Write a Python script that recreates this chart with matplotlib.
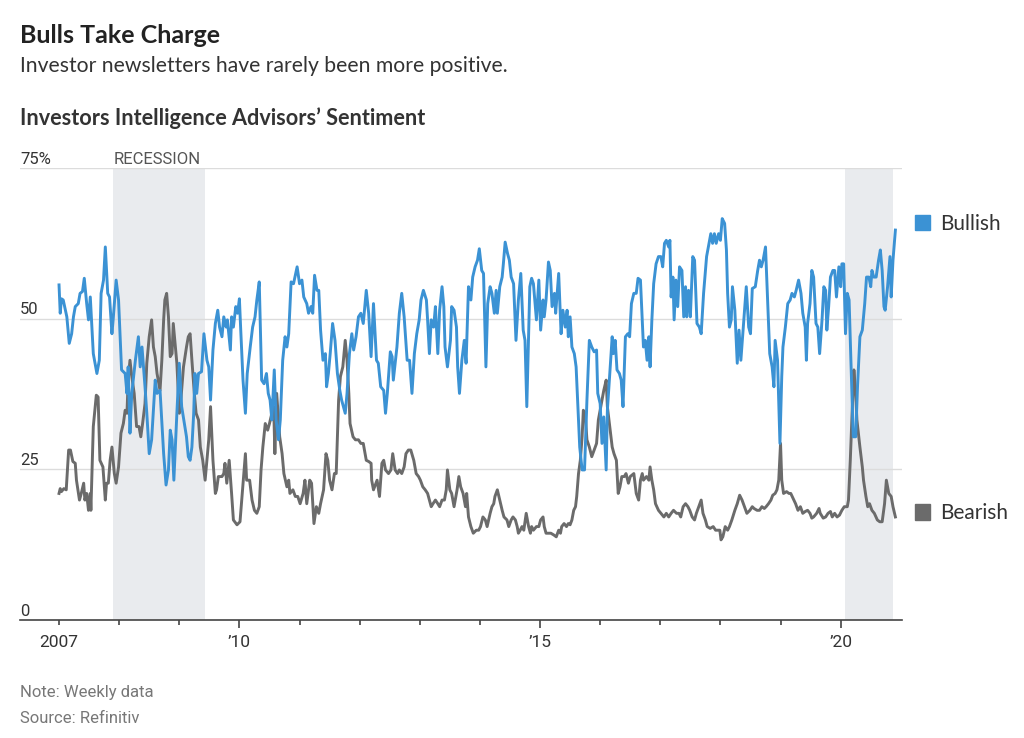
import matplotlib
matplotlib.use("Agg")
import matplotlib.pyplot as plt
from matplotlib.patches import Patch

# Data (decimal years)
bull_dates = [
    2007.00, 2007.02, 2007.04, 2007.07, 2007.13, 2007.17, 2007.21, 2007.24, 2007.27, 2007.32,
    2007.35, 2007.39, 2007.42, 2007.46, 2007.49, 2007.52, 2007.54, 2007.57, 2007.63, 2007.67,
    2007.70, 2007.74, 2007.77, 2007.81, 2007.84, 2007.88, 2007.90, 2007.95, 2007.99, 2008.04,
    2008.10, 2008.13, 2008.15, 2008.18, 2008.21, 2008.27, 2008.32, 2008.35, 2008.38, 2008.43,
    2008.46, 2008.50, 2008.54, 2008.60, 2008.63, 2008.68, 2008.74, 2008.78, 2008.82, 2008.85,
    2008.88, 2008.91, 2008.96, 2009.00, 2009.04, 2009.12, 2009.15,
    2009.18, 2009.21, 2009.24, 2009.26, 2009.29, 2009.32, 2009.37, 2009.41, 2009.46, 2009.49,
    2009.52, 2009.56, 2009.60, 2009.64, 2009.67, 2009.71, 2009.74, 2009.78, 2009.80, 2009.85,
    2009.87, 2009.90, 2009.94, 2009.97, 2010.00, 2010.02, 2010.06, 2010.10, 2010.13, 2010.18,
    2010.22, 2010.26, 2010.29, 2010.33, 2010.37, 2010.41, 2010.45, 2010.48, 2010.51, 2010.54,
    2010.58, 2010.61, 2010.65, 2010.68, 2010.72, 2010.76, 2010.79, 2010.82, 2010.86, 2010.90,
    2010.96, 2011.00, 2011.04, 2011.07, 2011.12, 2011.15, 2011.19, 2011.22, 2011.25, 2011.29,
    2011.32, 2011.35, 2011.39, 2011.43, 2011.45, 2011.48, 2011.51, 2011.55, 2011.59, 2011.63,
    2011.67,
    2011.70, 2011.76, 2011.79, 2011.83, 2011.87, 2011.90, 2011.94, 2011.98, 2012.02, 2012.06,
    2012.11, 2012.15, 2012.19, 2012.23, 2012.28, 2012.31, 2012.35, 2012.40, 2012.43, 2012.46,
    2012.51, 2012.54, 2012.56, 2012.62, 2012.66, 2012.70, 2012.74, 2012.79, 2012.83, 2012.87,
    2012.91, 2012.95, 2012.99, 2013.02, 2013.06, 2013.11, 2013.13, 2013.16, 2013.19, 2013.23,
    2013.26, 2013.30, 2013.33, 2013.37, 2013.40, 2013.42, 2013.46, 2013.51, 2013.53, 2013.57,
    2013.61, 2013.63, 2013.66, 2013.70, 2013.74, 2013.77, 2013.81, 2013.85, 2013.88, 2013.92,
    2013.96, 2013.99, 2014.03, 2014.06, 2014.10, 2014.13,
    2014.17, 2014.20, 2014.24, 2014.27, 2014.29, 2014.33, 2014.37, 2014.39, 2014.42, 2014.46,
    2014.49, 2014.52, 2014.56, 2014.60, 2014.64, 2014.68, 2014.72, 2014.75, 2014.78, 2014.83,
    2014.86, 2014.89, 2014.94, 2014.98, 2015.01, 2015.05, 2015.07, 2015.10, 2015.14, 2015.17,
    2015.20, 2015.24, 2015.26, 2015.31, 2015.35, 2015.38, 2015.42, 2015.45, 2015.47, 2015.50,
    2015.53, 2015.57, 2015.60, 2015.62, 2015.66, 2015.70, 2015.74, 2015.78, 2015.82, 2015.86,
    2015.90, 2015.94, 2015.96, 2016.00, 2016.03, 2016.06, 2016.10, 2016.12, 2016.16, 2016.20,
    2016.22, 2016.25, 2016.28, 2016.32, 2016.35, 2016.38, 2016.42, 2016.46, 2016.49, 2016.52,
    2016.56, 2016.60, 2016.63,
    2016.67, 2016.70, 2016.72, 2016.75, 2016.78, 2016.81, 2016.83, 2016.86, 2016.89, 2016.93,
    2016.97, 2017.01, 2017.04, 2017.07, 2017.10, 2017.14, 2017.16, 2017.18, 2017.21, 2017.23,
    2017.26, 2017.29, 2017.32, 2017.36, 2017.39, 2017.42, 2017.44, 2017.47, 2017.50, 2017.54,
    2017.57, 2017.61, 2017.65, 2017.68, 2017.72, 2017.77, 2017.80, 2017.84, 2017.87, 2017.90,
    2017.93, 2017.97, 2018.00, 2018.03, 2018.07, 2018.10, 2018.12, 2018.15, 2018.18, 2018.20,
    2018.24, 2018.28, 2018.31, 2018.34, 2018.39, 2018.43, 2018.47, 2018.50, 2018.53, 2018.58,
    2018.62, 2018.65, 2018.68, 2018.71, 2018.75, 2018.78, 2018.82, 2018.86, 2018.89, 2018.91,
    2018.95, 2018.99, 2019.02,
    2019.04, 2019.08, 2019.12, 2019.16, 2019.19, 2019.23, 2019.26, 2019.30, 2019.34, 2019.37,
    2019.41, 2019.43, 2019.45, 2019.49, 2019.52, 2019.55, 2019.59, 2019.62, 2019.65, 2019.69,
    2019.72, 2019.75, 2019.77, 2019.80, 2019.83, 2019.87, 2019.90, 2019.93, 2019.97, 2020.00,
    2020.02, 2020.05, 2020.08, 2020.11, 2020.14, 2020.17, 2020.21, 2020.25, 2020.28, 2020.32,
    2020.36, 2020.40, 2020.43, 2020.47, 2020.50, 2020.52, 2020.55, 2020.59, 2020.63, 2020.66,
    2020.69, 2020.72, 2020.74, 2020.78, 2020.82, 2020.84, 2020.87, 2020.91,
]
bull_values = [
    55.6, 50.9, 53.3, 53.1, 50.3, 45.9, 47.5, 50.3, 52.0, 52.5,
    54.2, 54.5, 56.7, 52.5, 49.8, 53.6, 49.8, 44.2, 40.9, 43.1,
    54.2, 56.4, 61.9, 54.2, 53.6, 47.5, 49.8, 56.4, 53.1, 41.5,
    40.9, 37.6, 42.0, 31.0, 37.6, 43.1, 47.0, 42.0, 45.3, 38.7,
    34.3, 27.6, 29.9, 39.8, 37.6, 38.1, 27.6, 22.4, 24.9, 31.5,
    29.9, 23.2, 34.3, 42.6, 35.4, 30.4, 27.1,
    26.5, 28.7, 34.3, 40.9, 37.6, 40.9, 41.2, 47.5, 43.1, 42.0,
    36.5, 44.8, 49.2, 51.4, 48.6, 47.0, 50.3, 48.6, 49.8, 44.8,
    50.3, 48.6, 52.0, 50.9, 53.3, 48.6, 39.8, 34.3, 40.9, 45.3,
    48.6, 50.3, 53.1, 56.1, 39.8, 39.2, 40.9, 37.6, 36.5, 33.2,
    41.5, 33.2, 29.9, 33.2, 43.1, 47.0, 45.3, 47.5, 56.1, 55.8,
    58.6, 55.8, 56.4, 53.6, 52.5, 50.9, 52.0, 50.9, 57.2, 54.7,
    54.7, 48.1, 43.1, 44.2, 38.7, 40.9, 44.2, 49.2, 46.4, 40.9,
    38.1,
    36.5, 34.3, 37.6, 44.2, 47.5, 44.8, 47.0, 50.3, 50.9, 49.2,
    54.7, 50.9, 43.7, 52.5, 43.1, 42.6, 38.7, 38.1, 34.3, 37.6,
    44.5, 43.7, 39.8, 45.3, 50.9, 54.2, 50.3, 43.1, 43.1, 37.6,
    44.2, 47.5, 49.8, 53.1, 54.7, 53.1, 49.8, 44.2, 49.8, 48.6,
    52.0, 44.2, 51.4, 55.3, 52.0, 45.3, 42.0, 46.4, 52.0, 51.4,
    48.6, 42.0, 37.6, 43.1, 46.4, 42.6, 55.3, 53.1, 56.9, 58.6,
    59.7, 61.6, 58.0, 57.5, 42.0, 52.5,
    55.3, 54.2, 50.9, 54.7, 50.9, 55.3, 56.9, 59.1, 62.7, 60.8,
    59.7, 56.9, 55.8, 46.4, 53.1, 57.5, 48.1, 46.4, 35.4, 55.3,
    56.7, 55.8, 49.8, 56.4, 48.1, 53.1, 50.3, 53.1, 59.4, 58.0,
    52.0, 54.2, 50.9, 57.5, 47.5, 51.4, 48.6, 51.4, 47.0, 50.3,
    45.3, 44.2, 42.0, 37.6, 28.7, 24.9, 24.9, 36.5, 46.4, 45.3,
    44.5, 44.8, 37.6, 35.9, 29.3, 33.7, 24.9, 34.8, 40.9, 47.0,
    44.2, 46.4, 41.5, 40.9, 39.8, 35.4, 47.0, 47.5, 47.0, 52.5,
    54.2, 54.2, 56.7,
    56.4, 49.8, 45.3, 46.4, 43.1, 47.0, 42.0, 49.8, 55.8, 59.1,
    60.3, 60.3, 58.6, 62.5, 63.0, 61.9, 63.0, 53.6, 56.9, 49.8,
    56.4, 52.0, 58.6, 58.0, 50.3, 55.3, 50.3, 54.7, 50.3, 60.3,
    59.7, 49.2, 48.6, 47.5, 54.2, 60.3, 61.9, 64.1, 62.5, 64.1,
    62.5, 64.1, 63.0, 66.6, 65.8, 61.4, 54.2, 48.6, 49.8, 55.3,
    51.4, 42.6, 48.1, 43.1, 49.8, 55.3, 48.6, 47.5, 55.0, 55.3,
    58.0, 59.7, 58.6, 59.7, 61.9, 54.2, 44.2, 42.0, 38.7, 46.4,
    43.1, 29.3, 40.4,
    45.3, 48.6, 52.5, 53.1, 54.2, 53.6, 54.7, 56.4, 54.2, 50.9,
    48.6, 43.1, 49.2, 52.5, 58.0, 56.9, 49.2, 48.6, 44.2, 49.8,
    55.3, 54.7, 48.1, 52.0, 56.9, 58.0, 58.0, 53.6, 58.6, 55.3,
    59.1, 59.1, 47.5, 54.2, 53.1, 43.1, 30.4, 30.4, 38.7, 47.0,
    48.1, 52.5, 56.9, 56.9, 55.3, 58.0, 56.9, 56.9, 59.7, 61.4,
    58.0, 52.0, 51.4, 55.3, 60.3, 53.6, 59.7, 64.7,
]

bear_dates = [
    2007.00, 2007.02, 2007.04, 2007.08, 2007.12, 2007.16, 2007.19, 2007.23, 2007.27, 2007.29,
    2007.34, 2007.37, 2007.41, 2007.43, 2007.46, 2007.49, 2007.52, 2007.53, 2007.57, 2007.62,
    2007.65, 2007.68, 2007.73, 2007.77, 2007.79, 2007.82, 2007.85, 2007.88, 2007.92, 2007.95,
    2007.99, 2008.03, 2008.07, 2008.10, 2008.13, 2008.15, 2008.18, 2008.21, 2008.25, 2008.29,
    2008.33, 2008.36, 2008.39, 2008.43, 2008.46, 2008.50, 2008.54, 2008.57, 2008.60, 2008.63,
    2008.65, 2008.68, 2008.71, 2008.74, 2008.76, 2008.79, 2008.82, 2008.85, 2008.88, 2008.90,
    2008.93, 2008.96, 2009.00, 2009.03, 2009.07, 2009.12, 2009.15,
    2009.18, 2009.21, 2009.25, 2009.28, 2009.32, 2009.35, 2009.39, 2009.43, 2009.46, 2009.49,
    2009.52, 2009.56, 2009.60, 2009.62, 2009.65, 2009.71, 2009.74, 2009.76, 2009.79, 2009.83,
    2009.87, 2009.90, 2009.96, 2010.01, 2010.06, 2010.10, 2010.12, 2010.17, 2010.21, 2010.25,
    2010.29, 2010.33, 2010.36, 2010.39, 2010.43, 2010.47, 2010.50, 2010.54, 2010.57, 2010.59,
    2010.62, 2010.67, 2010.71, 2010.74, 2010.79, 2010.82, 2010.84, 2010.89, 2010.93, 2010.97,
    2011.01, 2011.06, 2011.09, 2011.12, 2011.17, 2011.20, 2011.24, 2011.28, 2011.32, 2011.35,
    2011.40, 2011.44, 2011.47, 2011.50, 2011.54, 2011.58, 2011.61, 2011.65,
    2011.68, 2011.72, 2011.76, 2011.79, 2011.82, 2011.84, 2011.89, 2011.93, 2011.98, 2012.02,
    2012.06, 2012.11, 2012.15, 2012.19, 2012.20, 2012.23, 2012.29, 2012.33, 2012.37, 2012.40,
    2012.43, 2012.48, 2012.52, 2012.55, 2012.59, 2012.63, 2012.66, 2012.70, 2012.74, 2012.77,
    2012.81, 2012.85, 2012.90, 2012.94, 2012.98, 2013.01, 2013.05, 2013.09, 2013.13, 2013.16,
    2013.19, 2013.22, 2013.26, 2013.30, 2013.33, 2013.37, 2013.41, 2013.44, 2013.46, 2013.50,
    2013.53, 2013.57, 2013.62, 2013.65, 2013.68, 2013.72, 2013.76, 2013.78, 2013.81, 2013.85,
    2013.89, 2013.94, 2013.98, 2014.01, 2014.05, 2014.09, 2014.12,
    2014.17, 2014.20, 2014.23, 2014.25, 2014.29, 2014.33, 2014.37, 2014.40, 2014.45, 2014.48,
    2014.52, 2014.55, 2014.59, 2014.62, 2014.64, 2014.67, 2014.70, 2014.73, 2014.77, 2014.81,
    2014.84, 2014.86, 2014.89, 2014.94, 2014.98, 2015.01, 2015.05, 2015.07, 2015.10, 2015.14,
    2015.18, 2015.23, 2015.27, 2015.31, 2015.34, 2015.36, 2015.40, 2015.44, 2015.47, 2015.50,
    2015.53, 2015.56, 2015.59, 2015.61, 2015.64, 2015.67, 2015.70, 2015.72, 2015.75, 2015.78,
    2015.82, 2015.86, 2015.90, 2015.94, 2015.97, 2016.01, 2016.06, 2016.10, 2016.12, 2016.16,
    2016.20, 2016.23, 2016.27, 2016.30, 2016.33, 2016.36, 2016.40, 2016.43, 2016.47, 2016.50,
    2016.56, 2016.60, 2016.64,
    2016.67, 2016.70, 2016.72, 2016.77, 2016.81, 2016.83, 2016.86, 2016.89, 2016.92, 2016.97,
    2017.01, 2017.06, 2017.10, 2017.14, 2017.18, 2017.22, 2017.27, 2017.31, 2017.34, 2017.38,
    2017.42, 2017.46, 2017.49, 2017.53, 2017.57, 2017.60, 2017.64, 2017.68, 2017.71, 2017.75,
    2017.78, 2017.83, 2017.88, 2017.92, 2017.95, 2017.99, 2018.01, 2018.04, 2018.08, 2018.12,
    2018.15, 2018.19, 2018.24, 2018.28, 2018.32, 2018.36, 2018.40, 2018.44, 2018.49, 2018.53,
    2018.56, 2018.61, 2018.65, 2018.69, 2018.73, 2018.76, 2018.80, 2018.84, 2018.87, 2018.91,
    2018.94, 2018.97, 2019.00, 2019.02, 2019.05, 2019.10, 2019.14, 2019.17,
    2019.25, 2019.29, 2019.33, 2019.37, 2019.41, 2019.45, 2019.49, 2019.52, 2019.55, 2019.60,
    2019.64, 2019.66, 2019.71, 2019.75, 2019.79, 2019.83, 2019.86, 2019.90, 2019.94, 2019.98,
    2020.02, 2020.06, 2020.11, 2020.13, 2020.16, 2020.19, 2020.22, 2020.25, 2020.27, 2020.32,
    2020.36, 2020.38, 2020.42, 2020.45, 2020.48, 2020.52, 2020.56, 2020.61, 2020.65, 2020.69,
    2020.73, 2020.76, 2020.80, 2020.84, 2020.87, 2020.91,
]
bear_values = [
    21.0, 21.8, 21.3, 21.8, 21.6, 28.2, 28.2, 26.3, 26.0, 23.2,
    19.9, 21.0, 22.7, 19.9, 21.0, 18.2, 21.0, 18.2, 32.1, 37.3,
    37.0, 26.5, 25.4, 19.9, 22.7, 22.7, 26.5, 28.7, 24.3, 22.7,
    25.4, 31.0, 32.6, 34.8, 34.3, 39.8, 43.1, 40.4, 37.6, 32.1,
    32.1, 30.4, 32.6, 35.9, 42.6, 47.0, 49.8, 45.3, 43.7, 40.9,
    39.8, 38.1, 43.1, 49.8, 53.1, 54.2, 50.3, 43.7, 44.2, 49.2,
    45.9, 42.6, 34.3, 37.0, 42.0, 45.3, 47.0,
    47.5, 43.1, 37.6, 34.3, 33.2, 28.7, 26.5, 23.2, 26.5, 29.9,
    35.4, 26.5, 21.0, 21.6, 23.8, 23.8, 24.3, 26.0, 22.7, 26.5,
    21.0, 16.6, 15.8, 16.3, 22.7, 27.6, 23.2, 23.2, 19.9, 18.2,
    17.7, 18.8, 24.9, 28.7, 32.6, 31.5, 32.6, 34.3, 35.4, 27.6,
    37.6, 30.4, 27.6, 24.3, 22.1, 23.2, 21.0, 21.6, 20.5, 20.5,
    19.3, 21.0, 23.2, 19.3, 23.2, 22.7, 16.0, 18.8, 17.7, 19.3,
    21.6, 27.6, 26.5, 23.2, 21.6, 24.3, 24.3, 36.5,
    40.4, 42.0, 46.4, 43.1, 37.6, 32.6, 30.4, 29.9, 29.9, 29.3,
    29.3, 26.5, 26.3, 26.0, 23.2, 21.6, 23.2, 20.5, 26.0, 26.5,
    24.9, 24.3, 24.9, 27.6, 24.9, 24.3, 24.9, 24.3, 25.4, 27.6,
    28.2, 28.2, 26.5, 24.3, 23.8, 23.2, 22.1, 21.6, 21.0, 19.9,
    18.8, 19.3, 19.9, 19.3, 18.8, 19.9, 19.9, 21.6, 24.9, 21.6,
    21.0, 18.8, 21.6, 23.8, 22.1, 21.0, 18.8, 21.0, 17.1, 15.5,
    14.4, 14.9, 14.9, 15.5, 17.1, 16.6, 15.5,
    17.7, 18.8, 19.3, 20.5, 21.6, 19.9, 18.2, 17.1, 16.6, 15.5,
    16.6, 17.1, 16.6, 15.5, 14.4, 14.9, 15.5, 14.9, 17.7, 15.5,
    14.4, 15.5, 14.9, 15.5, 15.5, 16.6, 17.1, 15.5, 14.4, 14.4,
    14.4, 14.1, 13.8, 14.9, 14.4, 15.5, 16.0, 15.5, 16.0, 15.8,
    16.6, 18.2, 18.8, 20.5, 24.3, 26.5, 30.4, 34.8, 34.3, 29.9,
    28.7, 27.1, 28.2, 29.3, 33.2, 35.4, 38.1, 39.8, 35.4, 32.1,
    28.7, 27.6, 26.5, 21.0, 22.1, 23.8, 23.8, 24.3, 22.7, 23.8,
    24.3, 21.0, 19.9,
    23.2, 24.3, 23.2, 23.8, 23.2, 25.4, 23.2, 21.6, 19.3, 18.2,
    17.7, 17.1, 17.7, 17.1, 17.7, 18.2, 17.7, 17.7, 17.1, 18.8,
    19.3, 18.8, 18.2, 17.1, 16.6, 17.7, 18.8, 19.9, 17.7, 16.6,
    15.5, 15.2, 15.5, 14.9, 14.9, 14.9, 13.3, 13.8, 15.5, 14.9,
    15.5, 16.6, 18.2, 19.3, 20.7, 19.9, 18.8, 17.7, 18.2, 18.8,
    18.5, 18.2, 18.2, 18.8, 18.5, 18.8, 19.3, 19.9, 20.7, 21.0,
    21.6, 23.2, 29.3, 23.2, 21.0, 21.3, 21.0, 21.0,
    19.3, 18.2, 18.8, 17.7, 18.0, 18.2, 17.7, 16.9, 17.1, 17.7,
    18.5, 17.7, 16.9, 17.1, 17.7, 18.0, 17.1, 17.7, 17.1, 17.4,
    18.2, 18.8, 18.8, 19.9, 26.5, 34.3, 41.5, 37.6, 33.2, 28.7,
    25.4, 23.2, 20.5, 18.8, 19.3, 18.2, 17.7, 16.6, 16.3, 16.3,
    19.3, 23.2, 21.0, 20.5, 18.8, 17.1,
]

recessions = [(2007.9, 2009.42), (2020.08, 2020.87)]
y_ticks = [0, 25, 50, 75]
y_labels = ["0", "25", "50", "75%"]
year_ticks = list(range(2007, 2021))
major_years = [2010, 2015, 2020]
major_labels = ["\u201910", "\u201915", "\u201920"]

BLUE = "#3b92d4"
GRAY = "#6b6b6b"
SHADE = "#e9ebee"
NARROW = ["Roboto", "DejaVu Sans"]
SANS = ["Lato", "DejaVu Sans"]

fig = plt.figure(figsize=(10.24, 7.38), dpi=100)
ax = fig.add_axes([20 / 1024, 1 - 620 / 738, 882 / 1024, 452 / 738])

for start, end in recessions:
    ax.axvspan(start, end, color=SHADE, lw=0, zorder=0)

ax.plot(bear_dates, bear_values, color=GRAY, lw=2.1, zorder=3,
        solid_joinstyle="round")
ax.plot(bull_dates, bull_values, color=BLUE, lw=2.1, zorder=4,
        solid_joinstyle="round")

ax.set_xlim(2006.351, 2021.02)
ax.set_ylim(0, 75)

# axes styling
for side in ["top", "right", "left"]:
    ax.spines[side].set_visible(False)
ax.spines["bottom"].set_color("#444444")
ax.spines["bottom"].set_linewidth(1.2)
ax.spines["bottom"].set_zorder(5)

ax.set_yticks(y_ticks)
ax.set_yticklabels([])
ax.tick_params(axis="y", length=0)
ax.yaxis.grid(True, color="#dcdcdc", lw=1.0)
ax.set_axisbelow(True)

ax.set_xticks(major_years)
ax.set_xticklabels(major_labels)
ax.set_xticks(year_ticks, minor=True)
ax.set_xticklabels(["2007"] + [""] * (len(year_ticks) - 1), minor=True)
ax.tick_params(axis="x", which="major", length=6, width=1.2, color="#444444",
               pad=5, labelsize=12.5, labelcolor="#333333")
ax.tick_params(axis="x", which="minor", length=3.5, width=1.2, color="#444444",
               pad=7.5, labelsize=12.5, labelcolor="#333333")
for lab in ax.get_xticklabels(which="both"):
    lab.set_family(NARROW)

for yv, lab in zip(y_ticks, y_labels):
    ax.annotate(lab, xy=(0, yv), xycoords=("axes fraction", "data"),
                xytext=(0, 3), textcoords="offset points", va="baseline",
                ha="left", fontsize=12, color="#333333", family=NARROW)

ax.annotate("RECESSION", xy=(recessions[0][0], 75), xytext=(0, 3),
            textcoords="offset points", va="baseline", ha="left",
            fontsize=12, color="#555555", family=NARROW)

# legend keys at the right
leg1 = ax.legend(handles=[Patch(color=BLUE)], labels=["Bullish"],
                 loc="center left", bbox_to_anchor=(1.005, 65.7 / 75),
                 frameon=False, handlelength=0.75, handleheight=0.75,
                 handletextpad=0.45, borderaxespad=0,
                 prop={"family": SANS, "size": 15})
ax.add_artist(leg1)
ax.legend(handles=[Patch(color=GRAY)], labels=["Bearish"],
          loc="center left", bbox_to_anchor=(1.005, 17.7 / 75),
          frameon=False, handlelength=0.75, handleheight=0.75,
          handletextpad=0.45, borderaxespad=0,
          prop={"family": SANS, "size": 15})
for lg in [leg1, ax.get_legend()]:
    for t in lg.get_texts():
        t.set_color("#333333")

# titles and notes
fig.text(20 / 1024, 1 - 43 / 738, "Bulls Take Charge", family=SANS,
         weight="bold", fontsize=18, color="#222222", va="baseline")
fig.text(20 / 1024, 1 - 72 / 738,
         "Investor newsletters have rarely been more positive.", family=SANS,
         fontsize=15.2, color="#333333", va="baseline")
fig.text(20 / 1024, 1 - 125 / 738,
         "Investors Intelligence Advisors\u2019 Sentiment", family=SANS,
         weight="bold", fontsize=15.6, color="#333333", va="baseline")
fig.text(20 / 1024, 1 - 697 / 738, "Note: Weekly data", family=NARROW,
         fontsize=12, color="#777777", va="baseline")
fig.text(20 / 1024, 1 - 723 / 738, "Source: Refinitiv", family=NARROW,
         fontsize=12, color="#777777", va="baseline")

fig.savefig("out.png", dpi=100, facecolor="white")
